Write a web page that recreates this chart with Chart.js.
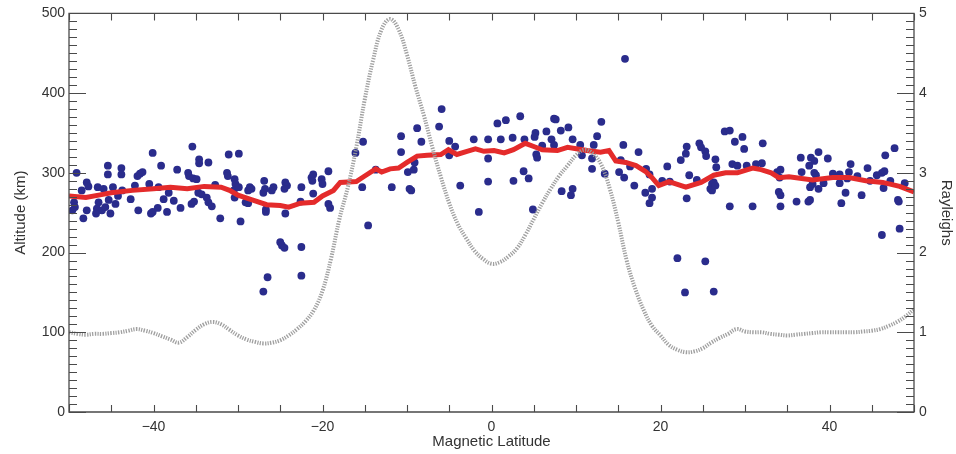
<!DOCTYPE html>
<html>
<head>
<meta charset="utf-8">
<script src="https://cdn.jsdelivr.net/npm/chart.js@4/dist/chart.umd.min.js"></script>
<style>
  html, body { margin: 0; padding: 0; background: #fff; }
  canvas { display: block; }
</style>
</head>
<body>
<canvas id="c" width="956" height="454"></canvas>
<script>
// Individual altitude measurements (magnetic latitude in degrees, altitude in km)
const pointLat = [
  -49.1,-49.4,-49.3,-49.6,-48.5,-47.9,-47.7,-48.3,-47.9,-46.6,-46.5,-46.7,-46.8,-46.1,-45.9,-45.7,-45.4,-45.4,-45.3,-45.1,
  -44.8,-44.5,-44.2,-43.8,-43.8,-43.7,-42.7,-42.2,-41.9,-41.6,-41.3,-41.8,-40.5,-40.1,-40.3,-40.1,-39.5,-39.1,-39.4,-38.8,
  -38.4,-38.2,-37.6,-37.2,-36.8,-35.9,-35.8,-35.4,-35.3,-34.9,-34.6,-34.6,-34.7,-34.3,-35.5,-35.2,-33.5,-33.7,-33.5,-33.1,
  -31.1,-29.9,-31.3,-31.2,-32.7,-32.1,-30.4,-30.3,-30.5,-30.4,-29.9,-29.7,-29.1,-28.8,-28.8,-28.6,-28.4,-26.9,-27.0,-26.8,
  -26.7,-26.7,-26.0,-25.8,-24.4,-24.2,-24.5,-24.4,-25.0,-24.8,-24.5,-22.5,-26.5,-27.0,-22.5,-22.5,-22.6,-21.3,-21.1,-21.2,
  -21.1,-20.1,-20.0,-19.3,-19.3,-19.1,
  -16.1,-15.2,-15.3,-14.6,-13.7,-11.8,-10.7,-10.7,-8.8,-8.3,-9.9,-9.2,-9.1,-9.7,-9.5,-5.9,-6.2,-5.0,-4.3,-5.0,
  -3.7,-2.1,-1.5,-0.4,-0.4,-0.4,
  1.1,0.7,1.7,2.5,2.6,3.4,3.9,3.8,4.4,4.9,5.2,5.1,5.3,5.4,6.0,6.5,7.1,7.4,7.6,7.4,
  8.2,8.3,9.1,9.6,9.6,9.4,10.5,10.7,11.9,11.9,12.1,12.5,13.0,13.4,15.1,15.3,15.6,15.7,15.8,
  16.4,17.4,16.9,18.3,18.7,18.2,19.0,19.0,18.7,20.2,20.8,21.1,22.4,23.0,23.1,23.4,23.1,24.3,24.6,24.8,
  25.3,25.4,26.5,26.6,25.9,26.1,26.3,26.1,26.5,27.6,28.2,28.8,29.7,29.9,28.5,29.1,30.2,28.2,30.9,31.3,
  32.0,32.1,22.0,25.3,22.9,26.3,
  33.8,34.2,34.1,34.0,34.2,34.2,36.1,36.6,36.7,37.5,37.7,37.7,37.6,37.8,38.2,38.2,38.4,38.0,38.7,38.7,
  39.3,39.8,40.4,41.2,41.2,41.9,41.4,42.5,42.3,42.1,43.3,43.8,44.5,44.8,45.6,46.2,46.5,46.4,46.6,47.7,
  47.2,48.1,48.2,48.9,46.2,48.3
];
const pointAlt = [
  300,263,257,253,278,288,283,243,253,282,263,255,249,253,280,257,309,298,266,249,
  282,261,271,306,298,278,267,284,296,299,301,253,286,325,249,251,256,309,282,267,
  251,275,265,304,256,300,296,333,293,292,317,312,275,273,261,264,313,269,263,258,
  323,324,300,296,285,243,292,286,278,269,282,239,263,262,278,282,280,290,275,280,
  254,251,278,282,288,284,280,249,213,209,206,207,169,151,171,282,264,294,298,290,
  274,292,286,302,261,256,
  325,339,282,234,304,282,346,326,356,339,301,304,313,280,278,380,358,340,333,322,
  284,342,251,342,318,289,
  342,362,366,344,290,371,342,302,293,254,350,345,323,319,334,352,342,368,367,335,
  353,277,357,342,280,272,335,322,318,305,335,346,364,299,301,316,335,294,443,
  308,326,284,305,298,275,280,269,262,290,308,289,316,324,333,297,268,291,337,332,
  327,321,317,307,280,286,288,278,284,352,353,339,345,330,311,309,309,258,258,311,
  312,337,193,189,150,151,
  301,304,294,276,272,258,264,319,301,264,266,282,309,319,315,300,297,286,326,280,
  287,318,299,298,287,275,262,311,301,293,296,272,306,290,297,300,302,281,322,331,
  290,266,264,287,222,230
];

// Running mean of altitude (km)
const meanLat = [
  -50,-48,-46,-45,-42.5,-40,-38,-36,-34,-32,-31,-30,-28.6,-26.6,-25,-24,-22.6,-21,-20,-18.7,
  -17.9,-16,-15,-13.7,-13,-12,-11,-10,-8.8,-7.6,-6,-5.1,-4.1,-2.9,-1.9,-0.9,0.3,1.5,2.6,4,
  5,6,7.8,9,10.2,11.3,12.9,13.9,14.7,15.9,17.1,18.2,19,19.8,21,23,24.8,26.3,27.7,29.1,
  30.9,31.9,33.1,34,35.2,38,40.4,42.3,44.3,46.3,48.3,50
];
const meanAlt = [
  271,269,273,275,278,280,282,280,283,282,278,272,267,260,259,257,262,263,271,278,
  288,289,296,305,301,305,306,313,321,322,323,329,323,327,330,327,328,325,329,337,
  333,329,328,332,330,328,326,328,315,313,309,302,294,284,289,282,288,297,300,300,
  306,304,300,294,295,291,294,294,290,288,283,276
];

// Emission brightness (Rayleighs) against magnetic latitude
const rayLat = [
  -50,-49,-48,-47,-46,-45,-44,-43,-42,-41,-40,-39,-38,-37,-36,-35,-34,-33,-32,-31,
  -30,-29,-28,-27,-26,-25,-24,-23,-22,-21,-20,-19,-18,-17,-16,-15,-14,-13,-12,-11,
  -10,-9,-8,-7,-6,-5,-4,-3,-2,-1,0,1,2,3,4,5,6,7,8,9,
  10,11,12,13,14,15,16,17,18,19,20,21,22,23,24,25,26,27,28,29,
  30,31,32,33,34,35,36,37,38,39,40,41,42,43,44,45,46,47,48,49,50
];
const rayVal = [
  1.00,0.98,0.97,0.98,0.98,0.99,1.00,1.02,1.04,1.02,0.99,0.95,0.91,0.87,0.94,1.03,1.10,1.13,1.10,1.03,
  0.96,0.91,0.88,0.86,0.87,0.90,0.96,1.04,1.14,1.28,1.52,1.92,2.42,2.82,3.32,3.92,4.42,4.80,4.93,4.80,
  4.48,4.08,3.72,3.32,2.95,2.62,2.36,2.18,2.02,1.92,1.86,1.88,1.95,2.05,2.22,2.42,2.62,2.80,2.96,3.09,
  3.22,3.29,3.24,3.10,2.80,2.38,1.90,1.55,1.28,1.08,0.96,0.84,0.78,0.75,0.76,0.80,0.87,0.93,0.98,1.04,
  1.01,1.00,1.00,0.98,0.97,0.96,0.97,0.98,0.99,1.00,1.00,1.00,1.00,1.00,1.01,1.02,1.04,1.08,1.13,1.20,1.29
];

// Axis ranges and labelled ticks
const latRange = [-50, 50];
const latTicks = [-40, -20, 0, 20, 40];
const altRange = [0, 500];
const rayRange = [0, 5];

const toXY = (xs, ys) => xs.map((x, i) => ({ x: x, y: ys[i] }));
const minus = v => String(v).replace('-', '\u2212');

// Draws the plot frame with IDL-style inward tick marks
const frameTicks = {
  id: 'frameTicks',
  afterDatasetsDraw(chart) {
    const { ctx, chartArea: a, scales } = chart;
    ctx.save();
    ctx.strokeStyle = '#4a4a4a';
    ctx.lineWidth = 1.3;
    ctx.beginPath();
    ctx.rect(a.left, a.top, a.right - a.left, a.bottom - a.top);
    ctx.stroke();
    ctx.lineWidth = 1.1;
    ctx.beginPath();
    const xs = scales.x;
    for (let v = xs.min; v <= xs.max + 1e-9; v += 5) {
      const px = Math.round(xs.getPixelForValue(v)) + 0.5;
      ctx.moveTo(px, a.top); ctx.lineTo(px, a.top + 7);
      ctx.moveTo(px, a.bottom); ctx.lineTo(px, a.bottom - 7);
    }
    const yl = scales.y;
    for (let i = 0; i <= 50; i++) {
      const v = yl.min + i * (yl.max - yl.min) / 50;
      const py = Math.round(yl.getPixelForValue(v)) + 0.5;
      ctx.moveTo(a.left, py); ctx.lineTo(a.left + (i % 10 === 0 ? 17 : 8), py);
    }
    const yr = scales.y2;
    for (let i = 0; i <= 50; i++) {
      const v = yr.min + i * (yr.max - yr.min) / 50;
      const py = Math.round(yr.getPixelForValue(v)) + 0.5;
      ctx.moveTo(a.right, py); ctx.lineTo(a.right - (i % 10 === 0 ? 17 : 8), py);
    }
    ctx.stroke();
    ctx.restore();
  }
};

const tickFont = { family: "'Liberation Sans', Arial, sans-serif", size: 14 };
const titleFont = { family: "'Liberation Sans', Arial, sans-serif", size: 15 };
const textColor = '#333333';

new Chart(document.getElementById('c'), {
  type: 'scatter',
  data: {
    datasets: [
      {
        type: 'line',
        label: 'Rayleighs',
        data: toXY(rayLat, rayVal),
        yAxisID: 'y2',
        borderColor: 'rgba(155,155,155,0.95)',
        borderWidth: 4,
        borderDash: [1.3, 1.3],
        pointRadius: 0,
        tension: 0.4,
        fill: false,
        order: 0
      },
      {
        type: 'line',
        label: 'Mean altitude',
        data: toXY(meanLat, meanAlt),
        yAxisID: 'y',
        borderColor: '#e42b2b',
        borderWidth: 5,
        pointRadius: 0,
        tension: 0,
        fill: false,
        order: 1
      },
      {
        label: 'Altitude',
        data: toXY(pointLat, pointAlt),
        yAxisID: 'y',
        backgroundColor: '#2a2c8c',
        borderWidth: 0,
        pointRadius: 3.9,
        order: 2
      }
    ]
  },
  options: {
    responsive: false,
    devicePixelRatio: 1,
    animation: false,
    events: [],
    layout: { padding: { top: 9, left: 0, right: 0, bottom: 0 } },
    plugins: { legend: { display: false }, tooltip: { enabled: false } },
    scales: {
      x: {
        type: 'linear',
        min: latRange[0], max: latRange[1],
        afterBuildTicks: s => { s.ticks = latTicks.map(v => ({ value: v })); },
        afterFit: s => { s.height = 42; },
        grid: { display: false, drawTicks: false },
        border: { display: false },
        ticks: { font: tickFont, color: textColor, padding: 7, maxRotation: 0, callback: minus },
        title: { display: true, text: 'Magnetic Latitude', font: titleFont, color: textColor, padding: { top: 0, bottom: 3 } }
      },
      y: {
        type: 'linear',
        position: 'left',
        min: altRange[0], max: altRange[1],
        afterFit: s => { s.width = 69; },
        grid: { display: false, drawTicks: false },
        border: { display: false },
        ticks: { font: tickFont, color: textColor, padding: 4, stepSize: 100 },
        title: { display: true, text: 'Altitude (km)', font: titleFont, color: textColor, padding: { top: 12, bottom: 0 } }
      },
      y2: {
        type: 'linear',
        position: 'right',
        min: rayRange[0], max: rayRange[1],
        afterFit: s => { s.width = 42; },
        grid: { display: false, drawTicks: false },
        border: { display: false },
        ticks: { font: tickFont, color: textColor, padding: 5, stepSize: 1 },
        title: { display: true, text: 'Rayleighs', font: titleFont, color: textColor, padding: { top: 1, bottom: 0 } }
      }
    }
  },
  plugins: [frameTicks]
});
</script>
</body>
</html>
